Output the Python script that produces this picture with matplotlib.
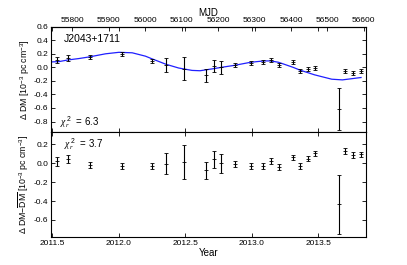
import numpy as np
import matplotlib.pyplot as plt

plt.rcParams['font.family'] = ['Liberation Sans', 'DejaVu Sans']
plt.rcParams['mathtext.fontset'] = 'custom'
plt.rcParams['mathtext.rm'] = 'Liberation Sans'
plt.rcParams['mathtext.it'] = 'Liberation Serif:italic'
plt.rcParams['axes.unicode_minus'] = False

# epochs (decimal year)
year = [2011.538, 2011.620, 2011.782, 2012.020, 2012.250, 2012.355, 2012.487,
        2012.655, 2012.712, 2012.770, 2012.870, 2012.993, 2013.087, 2013.143,
        2013.205, 2013.312, 2013.363, 2013.420, 2013.475, 2013.653, 2013.700,
        2013.758, 2013.818]
# top panel: DM variations
dm = [0.11, 0.14, 0.155, 0.20, 0.10, 0.03, -0.02, -0.12, 0.02, 0.0, 0.03,
      0.06, 0.075, 0.11, 0.03, 0.075, -0.05, -0.03, -0.01, -0.62, -0.05,
      -0.09, -0.05]
dm_err = [0.04, 0.04, 0.03, 0.03, 0.03, 0.105, 0.17, 0.09, 0.09, 0.1, 0.03,
          0.03, 0.03, 0.03, 0.03, 0.03, 0.03, 0.03, 0.03, 0.31, 0.03, 0.03, 0.03]
# bottom panel: residuals after model subtraction
res = [0.02, 0.045, -0.018, -0.03, -0.03, -0.005, 0.017, -0.074, 0.045, 0.0,
       -0.01, -0.03, -0.025, 0.025, -0.04, 0.063, -0.025, 0.05, 0.105, -0.435,
       0.13, 0.087, 0.095]
res_err = [0.045, 0.04, 0.03, 0.03, 0.03, 0.11, 0.18, 0.09, 0.09, 0.1, 0.03,
           0.03, 0.03, 0.03, 0.03, 0.03, 0.03, 0.03, 0.03, 0.31, 0.03, 0.03, 0.03]

# model curve
model_year = [2011.49, 2011.55, 2011.62, 2011.70, 2011.78, 2011.90, 2012.00,
              2012.10, 2012.20, 2012.25, 2012.355, 2012.45, 2012.55, 2012.61,
              2012.71, 2012.77, 2012.87, 2012.99, 2013.09, 2013.14, 2013.20,
              2013.31, 2013.36, 2013.47, 2013.60, 2013.68, 2013.82]
model_dm = [0.08, 0.085, 0.11, 0.13, 0.155, 0.20, 0.222, 0.215, 0.165, 0.125,
            0.045, -0.01, -0.045, -0.05, -0.02, 0.0, 0.03, 0.075, 0.095, 0.095,
            0.075, 0.0, -0.04, -0.11, -0.175, -0.185, -0.15]

mjd_ticks = [55800, 55900, 56000, 56100, 56200, 56300, 56400, 56500, 56600]
top_yticks = [0.6, 0.4, 0.2, 0.0, -0.2, -0.4, -0.6, -0.8]
bot_yticks = [0.2, 0.0, -0.2, -0.4, -0.6]
year_ticks = [2011.5, 2012.0, 2012.5, 2013.0, 2013.5]


def year2mjd(y):
    return (np.asarray(y) - 2000.0) * 365.25 + 51544.5


def mjd2year(m):
    return (np.asarray(m) - 51544.5) / 365.25 + 2000.0


fig = plt.figure(figsize=(4.07, 2.65), dpi=100)
ax1 = fig.add_axes([0.1253, 0.503, 0.7732, 0.3962])
ax2 = fig.add_axes([0.1253, 0.1057, 0.7732, 0.3973])

ekw = dict(fmt='_', color='k', ecolor='k', elinewidth=0.8, capsize=1.5,
           capthick=0.6, markersize=3, markeredgewidth=0.6)

ax1.plot(model_year, model_dm, color='#2020ff', lw=0.9)
ax1.errorbar(year, dm, yerr=dm_err, **ekw)
ax2.errorbar(year, res, yerr=res_err, **ekw)

for ax in (ax1, ax2):
    ax.set_xlim(2011.49, 2013.855)
    ax.set_xticks(year_ticks)
    ax.tick_params(direction='in', length=3, width=0.6, labelsize=6,
                   top=True, right=True, pad=2)
    for s in ax.spines.values():
        s.set_linewidth(0.8)

ax1.set_ylim(-0.95, 0.6)
ax1.set_yticks(top_yticks)
ax1.set_yticklabels(['%.1f' % v for v in top_yticks])
ax1.tick_params(labelbottom=False)
ax1.set_ylabel(r'$\Delta$ DM [10$^{-3}$ pc cm$^{-3}$]', fontsize=6.3, labelpad=2)

ax2.set_ylim(-0.78, 0.335)
ax2.set_yticks(bot_yticks)
ax2.set_yticklabels(['%.1f' % v for v in bot_yticks])
ax2.set_xticklabels(['%.1f' % v for v in year_ticks])
ax2.set_xlabel('Year', fontsize=7, labelpad=1)
ax2.set_ylabel(r'$\Delta$ DM$-\overline{\rm DM}$ [10$^{-3}$ pc cm$^{-3}$]',
               fontsize=6.3, labelpad=2)

sec = ax1.secondary_xaxis('top', functions=(year2mjd, mjd2year))
sec.set_xticks(mjd_ticks)
sec.tick_params(direction='in', length=3, width=0.6, labelsize=6, pad=2)
sec.set_xlabel('MJD', fontsize=7, labelpad=1)

ax1.text(0.04, 0.88, 'J2043+1711', transform=ax1.transAxes, fontsize=7.5,
         va='center')
ax1.text(0.03, 0.09, r'$\chi_r^{\,2}$  = 6.3', transform=ax1.transAxes,
         fontsize=7, va='center')
ax2.text(0.04, 0.88, r'$\chi_r^{\,2}$  = 3.7', transform=ax2.transAxes,
         fontsize=7, va='center')

fig.savefig('out.png', dpi=100)
